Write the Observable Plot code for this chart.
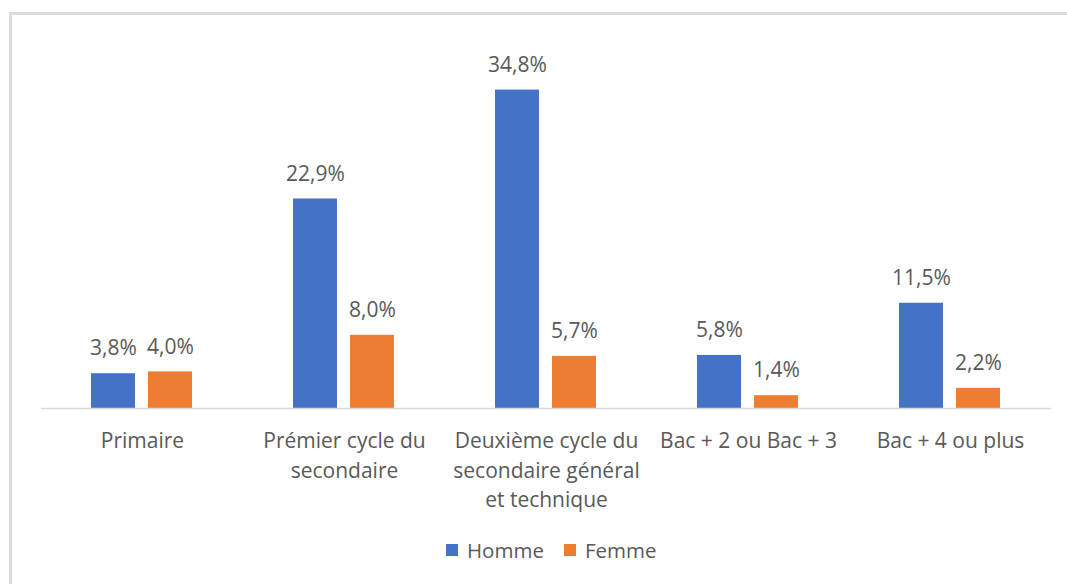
<!DOCTYPE html>
<html>
<head>
<meta charset="utf-8">
<script src="https://cdn.jsdelivr.net/npm/d3@7"></script>
<script src="https://cdn.jsdelivr.net/npm/@observablehq/plot@0.6"></script>
<style>
  html, body { margin: 0; padding: 0; background: #fff; }
  body { position: relative; width: 1067px; height: 584px; overflow: hidden; font-family: "Open Sans", sans-serif; }
  #frame { position: absolute; left: 9px; top: 12px; width: 1200px; height: 700px;
           border-top: 3px solid #dcdcdc; border-left: 3px solid #dcdcdc; }
  #chart { position: absolute; left: 0; top: 0; }
  #legend { position: absolute; left: 446px; top: 536px; }
  #legend .lg-swatch { margin-right: 20px; }
  #legend .lg-swatch > svg { margin-right: 9px; }
</style>
</head>
<body>
<div id="frame"></div>
<div id="chart"></div>
<div id="legend"></div>
<script>
const categories = ["Primaire", "Prémier cycle du secondaire", "Deuxième cycle du secondaire général et technique", "Bac + 2 ou Bac + 3", "Bac + 4 ou plus"];
const tickLabels = ["Primaire", "Prémier cycle du\nsecondaire", "Deuxième cycle du\nsecondaire général\net technique", "Bac + 2 ou Bac + 3", "Bac + 4 ou plus"];
const series = ["Homme", "Femme"];
const homme = [3.8, 22.9, 34.8, 5.8, 11.5];
const femme = [4.0, 8.0, 5.7, 1.4, 2.2];
const colors = ["#4472C4", "#ED7D31"];

const rows = [];
categories.forEach((c, i) => {
  rows.push({cat: c, sex: series[0], value: homme[i]});
  rows.push({cat: c, sex: series[1], value: femme[i]});
});
const fmt = v => d3.format(".1f")(v).replace(".", ",") + "%";

const chart = Plot.plot({
  width: 1067,
  height: 520,
  marginTop: 42,
  marginBottom: 112,
  marginLeft: 39,
  marginRight: 14,
  style: {background: "transparent", fontFamily: "Open Sans", fontSize: "21px", color: "#595959"},
  fx: {domain: categories, padding: 0},
  x: {domain: series, paddingInner: 0.22, paddingOuter: 0.88, axis: null},
  y: {domain: [0, 40], axis: null},
  color: {domain: series, range: colors},
  marks: [
    Plot.barY(rows, {fx: "cat", x: "sex", y: "value", fill: "sex"}),
    Plot.ruleY([0], {stroke: "#d9d9d9", strokeWidth: 1.5}),
    Plot.text(rows, {fx: "cat", x: "sex", y: "value", text: d => fmt(d.value), dy: -25, fill: "#595959", fontSize: 21}),
    Plot.axisFx({anchor: "bottom", tickSize: 0, tickPadding: 19, label: null,
      tickFormat: d => tickLabels[categories.indexOf(d)], lineHeight: 1.4, fill: "#595959", fontSize: 21})
  ]
});
document.getElementById("chart").appendChild(chart);

// Legend
const legend = document.getElementById("legend");
legend.style.display = "flex";
legend.style.alignItems = "center";
legend.style.fontSize = "20.5px";
legend.style.color = "#595959";
series.forEach((s, i) => {
  const item = document.createElement("span");
  item.className = "lg-swatch";
  item.style.display = "inline-flex";
  item.style.alignItems = "center";
  const sw = d3.create("svg").attr("width", 12).attr("height", 12);
  sw.append("rect").attr("width", 12).attr("height", 12).attr("fill", colors[i]);
  item.appendChild(sw.node());
  const t = document.createElement("span");
  t.textContent = s;
  item.appendChild(t);
  legend.appendChild(item);
});
</script>
</body>
</html>
